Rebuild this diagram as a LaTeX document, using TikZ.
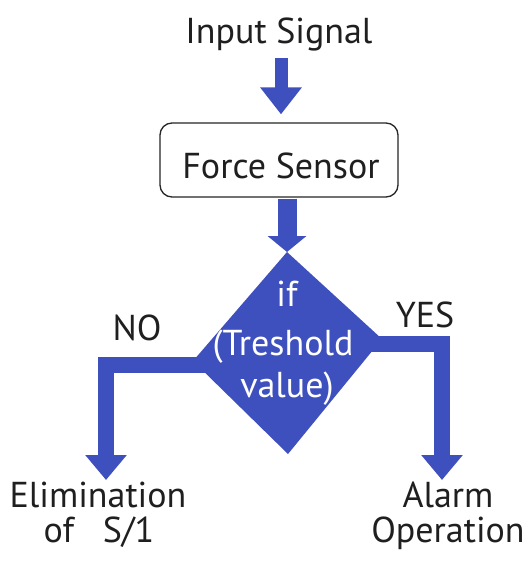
\documentclass[tikz,border=0pt]{standalone}
\usepackage{fontspec}
\setmainfont{PT Sans}
\usetikzlibrary{arrows.meta,calc}
\definecolor{fblue}{RGB}{62,80,190}
\begin{document}
\begin{tikzpicture}[x=1pt,y=-1pt,
  lbl/.style={font=\fontsize{36}{42}\selectfont, anchor=base, inner sep=0pt, text=black!88},
  dlbl/.style={lbl, text=white},
  flow/.style={draw=fblue, line width=16pt, line join=miter},
  headA/.style={-{Triangle[width=40pt,length=27pt]}},
  headB/.style={-{Triangle[width=40pt,length=25pt]}},
  boxstyle/.style={draw=black!85, fill=white, line width=1.3pt, rounded corners=12pt,
    minimum width=238pt, minimum height=74pt, inner sep=0pt}]
\useasboundingbox[fill=white] (0,0) rectangle (530,563);

% top label and sensor box
\node[lbl] (in) at (279,43) {Input Signal};
\node[boxstyle] (fs) at (279,160) {};
\node[lbl] (fst) at (281,178) {Force Sensor};

% decision diamond
\coordinate (dT) at (287,252);
\coordinate (dR) at (382,339);
\coordinate (dB) at (288,454);
\coordinate (dL) at (193,361);

% arrows
\draw[fblue, line width=13pt, headA] ([xshift=2pt,yshift=-7pt]in.south) -- ([xshift=2pt,yshift=8pt]fs.north);
\draw[fblue, line width=19pt, -{Triangle[width=38pt,length=16pt]}] ([xshift=8pt,yshift=-1pt]fs.south) -- (dT);

\fill[fblue] (dT) -- (dR) -- (dB) -- (dL) -- cycle;

\coordinate (yescorner) at (442,344);
\coordinate (yesend) at (442,480);
\coordinate (nocorner) at (106,365);
\coordinate (noend) at (106,480);
\draw[flow, headB] ($(dR)+(-20,5)$) -- (yescorner) -- (yesend);
\draw[flow, headB] ($(dL)+(20,4)$) -- (nocorner) -- (noend);

% diamond text
\node[dlbl] (if1) at (287,306) {if};
\node[dlbl] (if2) at (283,355) {(Treshold};
\node[dlbl] (if3) at (287,397) {value)};

% branch labels
\node[lbl] (no) at (137,340) {NO};
\node[lbl] (yes) at (425,327) {YES};

% outputs
\node[lbl] (el1) at (98,507) {Elimination};
\node[lbl] (el2) at (99,542) {of\ \ \ S/1};
\node[lbl] (al1) at (448,507) {Alarm};
\node[lbl] (al2) at (448,542) {Operation};
\end{tikzpicture}
\end{document}
